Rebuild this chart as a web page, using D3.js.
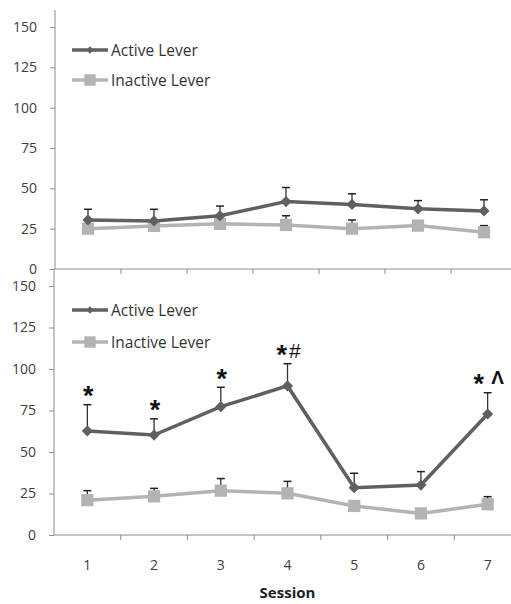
<!DOCTYPE html>
<html>
<head>
<meta charset="utf-8">
<script src="https://cdn.jsdelivr.net/npm/d3@7"></script>
<style>
  body { margin: 0; background: #fff; }
  svg { display: block; }
  .tick text { font-family: "Open Sans", sans-serif; font-size: 14px; fill: #404040; }
</style>
</head>
<body>
<svg id="chart" width="511" height="604"></svg>
<script>
// chart data
const sessions = [1, 2, 3, 4, 5, 6, 7];
const yTicks = [0, 25, 50, 75, 100, 125, 150];
const seriesNames = ["Active Lever", "Inactive Lever"];

// top panel
const topActive = [30.4, 29.8, 33, 41.8, 40, 37.3, 36];
const topActiveSem = [6.6, 7.2, 6, 8.7, 6.6, 5.1, 6.9];
const topInactive = [25, 26.7, 28, 27.3, 25, 26.9, 22.8];
const topInactiveSem = [1.5, 1.5, 2, 5.7, 5.4, 1.5, 4.1];

// bottom panel
const botActive = [62.7, 60.2, 77.3, 89.8, 28.5, 30.1, 72.9];
const botActiveSem = [15.8, 9.8, 11.7, 13.4, 8.7, 8.1, 12.8];
const botInactive = [21, 23.3, 26.7, 25.1, 17.5, 13, 18.5];
const botInactiveSem = [5.7, 4.8, 7.3, 7.2, 1.5, 1.5, 4.6];
const botMarks = ["*", "*", "*", "*#", "", "", "* Λ"];

const activeColor = "#606060";
const inactiveColor = "#b3b3b3";
const axisColor = "#8c8c8c";

// per-glyph style for the significance marks (size, weight, baseline shift)
const glyphStyle = {
    "*": { size: 27, weight: "bold", shift: 0.5 },
    "#": { size: 21, weight: "normal", shift: -5.5 },
    "Λ": { size: 19, weight: "bold", shift: -9 },
    " ": { size: 19, weight: "normal", shift: null }
};

const svg = d3.select("#chart");
svg.append("rect").attr("width", 511).attr("height", 604).attr("fill", "#fff");

function drawPanel(opts) {
    const x = d3.scaleBand().domain(sessions).range(opts.xRange);
    const y = d3.scaleLinear().domain([0, 150]).range(opts.yRange);
    const g = svg.append("g");
    const cx = (d) => x(d) + x.bandwidth() / 2;

    // y axis
    const yAxis = g.append("g")
        .attr("transform", `translate(${opts.xRange[0]},0)`)
        .call(d3.axisLeft(y).tickValues(yTicks).tickSize(5).tickPadding(13));
    yAxis.select(".domain").remove();
    yAxis.selectAll(".tick line").attr("stroke", axisColor);
    g.append("line")
        .attr("x1", opts.xRange[0]).attr("x2", opts.xRange[0])
        .attr("y1", y(0)).attr("y2", y(150) - opts.axisOver)
        .attr("stroke", axisColor);

    // x axis line and boundary ticks
    g.append("line")
        .attr("x1", opts.xRange[0]).attr("x2", 511)
        .attr("y1", y(0)).attr("y2", y(0))
        .attr("stroke", axisColor);
    g.selectAll(".xtick")
        .data(sessions.slice(1))
        .enter()
        .append("line")
        .attr("x1", (d) => x(d)).attr("x2", (d) => x(d))
        .attr("y1", y(0)).attr("y2", y(0) + 5)
        .attr("stroke", axisColor);

    if (opts.showXLabels) {
        g.selectAll(".xlab")
            .data(sessions)
            .enter()
            .append("text")
            .attr("x", cx)
            .attr("y", y(0) + 35)
            .attr("text-anchor", "middle")
            .style("font-family", "Open Sans, sans-serif")
            .style("font-size", "14px")
            .attr("fill", "#404040")
            .text((d) => d);
        g.append("text")
            .attr("x", x(4) + x.bandwidth() / 2)
            .attr("y", y(0) + 63)
            .attr("text-anchor", "middle")
            .style("font-family", "Open Sans, sans-serif")
            .style("font-size", "15px")
            .style("font-weight", "bold")
            .attr("fill", "#222")
            .text("Session");
    }

    const line = d3.line().x((d) => cx(d.s)).y((d) => y(d.v));
    const series = [
        { vals: opts.inactive, sem: opts.inactiveSem, color: inactiveColor, shape: "square" },
        { vals: opts.active, sem: opts.activeSem, color: activeColor, shape: "diamond" }
    ];

    series.forEach((ser) => {
        const pts = sessions.map((s, i) => ({ s: s, v: ser.vals[i], e: ser.sem[i] }));
        // error bars (upper only)
        const eb = g.append("g");
        eb.selectAll("line.stem")
            .data(pts).enter().append("line")
            .attr("x1", (d) => cx(d.s)).attr("x2", (d) => cx(d.s))
            .attr("y1", (d) => y(d.v)).attr("y2", (d) => y(d.v + d.e))
            .attr("stroke", "#333").attr("stroke-width", 1.3);
        eb.selectAll("line.cap")
            .data(pts).enter().append("line")
            .attr("x1", (d) => cx(d.s) - 4).attr("x2", (d) => cx(d.s) + 4)
            .attr("y1", (d) => y(d.v + d.e)).attr("y2", (d) => y(d.v + d.e))
            .attr("stroke", "#222").attr("stroke-width", 1.5);

        g.append("path")
            .datum(pts)
            .attr("d", line)
            .attr("fill", "none")
            .attr("stroke", ser.color)
            .attr("stroke-width", 3.5);

        const sym = ser.shape === "diamond"
            ? d3.symbol().type(d3.symbolDiamond2).size(80)
            : d3.symbol().type(d3.symbolSquare).size(150);
        g.selectAll(".m")
            .data(pts).enter().append("path")
            .attr("d", sym)
            .attr("transform", (d) => `translate(${cx(d.s)},${y(d.v)})`)
            .attr("fill", ser.color);
    });

    // legend
    const legend = g.append("g");
    const items = [
        { name: seriesNames[0], color: activeColor, sym: d3.symbol().type(d3.symbolDiamond2).size(36) },
        { name: seriesNames[1], color: inactiveColor, sym: d3.symbol().type(d3.symbolSquare).size(130) }
    ];
    items.forEach((it, i) => {
        const ly = opts.legendY[i];
        legend.append("line")
            .attr("x1", 72).attr("x2", 108)
            .attr("y1", ly).attr("y2", ly)
            .attr("stroke", it.color).attr("stroke-width", 3.5);
        legend.append("path")
            .attr("d", it.sym)
            .attr("transform", `translate(90,${ly})`)
            .attr("fill", it.color);
        legend.append("text")
            .attr("x", 111)
            .attr("y", ly + 5.5)
            .style("font-family", "Open Sans, sans-serif")
            .style("font-size", "15.5px")
            .attr("fill", "#333")
            .text(it.name);
    });

    // significance marks
    if (opts.marks) {
        sessions.forEach((s, i) => {
            const t = opts.marks[i];
            if (!t) return;
            const txt = g.append("text")
                .attr("x", cx(s) + 1)
                .attr("y", y(opts.active[i] + opts.activeSem[i]))
                .attr("text-anchor", "middle")
                .style("font-family", "Liberation Sans, sans-serif")
                .attr("fill", "#111");
            let prev = 0;
            Array.from(t).forEach((ch, k) => {
                const st = glyphStyle[ch];
                const shift = st.shift === null ? prev : st.shift;
                txt.append("tspan")
                    .attr("dy", shift - prev)
                    .attr("dx", k > 0 && ch !== " " ? 2 : 0)
                    .style("font-size", st.size + "px")
                    .style("font-weight", st.weight)
                    .text(ch);
                prev = shift;
            });
        });
    }
}

drawPanel({
    xRange: [55, 517], yRange: [269, 27], axisOver: 17,
    active: topActive, activeSem: topActiveSem,
    inactive: topInactive, inactiveSem: topInactiveSem,
    legendY: [50, 80], showXLabels: false
});

drawPanel({
    xRange: [54, 521], yRange: [535, 286], axisOver: 16,
    active: botActive, activeSem: botActiveSem,
    inactive: botInactive, inactiveSem: botInactiveSem,
    legendY: [310, 342], showXLabels: true, marks: botMarks
});
</script>
</body>
</html>
